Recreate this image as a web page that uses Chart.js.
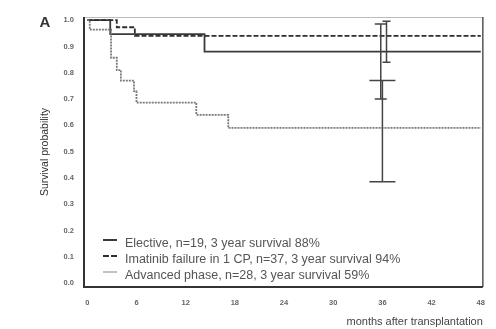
<!DOCTYPE html>
<html>
<head>
<meta charset="utf-8">
<script src="https://cdn.jsdelivr.net/npm/chart.js@4.4.1/dist/chart.umd.min.js"></script>
<style>
  html, body { margin: 0; padding: 0; background: #fff; }
  #wrap { width: 496px; height: 329px; }
</style>
</head>
<body>
<div id="wrap"><canvas id="chart" width="496" height="329"></canvas></div>
<script>
// Kaplan-Meier curves (months, survival)
const electiveT = [0, 2.8, 14.3, 48];
const electiveS = [1, 0.947, 0.88, 0.88];
const imatinibT = [0, 3.6, 5.8, 48];
const imatinibS = [1, 0.973, 0.94, 0.94];
const advancedT = [0, 0.3, 2.9, 3.6, 4.1, 5.7, 6.0, 13.3, 17.2, 48];
const advancedS = [1, 0.964, 0.857, 0.81, 0.77, 0.73, 0.686, 0.64, 0.59, 0.59];

// 3 year confidence bars
const ciMonth = [35.8, 36.5, 36.0];
const ciLow = [0.70, 0.84, 0.385];
const ciHigh = [0.985, 0.996, 0.77];

const legendLabels = [
  'Elective, n=19, 3 year survival 88%',
  'Imatinib failure in 1 CP, n=37, 3 year survival 94%',
  'Advanced phase, n=28, 3 year survival 59%'
];
const xTicks = [0, 6, 12, 18, 24, 30, 36, 42, 48];
const yTicks = [0, 0.1, 0.2, 0.3, 0.4, 0.5, 0.6, 0.7, 0.8, 0.9, 1.0];

const toPoints = (t, s) => t.map((v, i) => ({ x: v, y: s[i] }));

const styles = [
  { color: '#3a3a3a', dash: [], width: 1.8 },
  { color: '#2e2e2e', dash: [5, 2], width: 1.8 },
  { color: '#7a7a7a', dash: [2, 1], width: 1.8 }
];
const caps = [6, 4, 13];

const extras = {
  id: 'extras',
  afterDatasetsDraw(chart) {
    const { ctx, chartArea: a, scales: { x, y } } = chart;
    ctx.save();
    // frame
    ctx.strokeStyle = '#bbb'; ctx.lineWidth = 1;
    ctx.beginPath(); ctx.moveTo(a.left, a.top + 0.5); ctx.lineTo(a.right, a.top + 0.5); ctx.stroke();
    ctx.strokeStyle = '#555'; ctx.lineWidth = 1.5;
    ctx.beginPath(); ctx.moveTo(a.right, a.top); ctx.lineTo(a.right, a.bottom); ctx.stroke();
    ctx.strokeStyle = '#333'; ctx.lineWidth = 2;
    ctx.beginPath(); ctx.moveTo(a.left, a.top); ctx.lineTo(a.left, a.bottom); ctx.lineTo(a.right, a.bottom); ctx.stroke();

    // error bars
    ciMonth.forEach((m, i) => {
      const px = x.getPixelForValue(m);
      const y1 = y.getPixelForValue(ciLow[i]);
      const y2 = y.getPixelForValue(ciHigh[i]);
      ctx.strokeStyle = '#444'; ctx.lineWidth = 1.5; ctx.setLineDash([]);
      ctx.beginPath();
      ctx.moveTo(px, y1); ctx.lineTo(px, y2);
      ctx.moveTo(px - caps[i], y1); ctx.lineTo(px + caps[i], y1);
      ctx.moveTo(px - caps[i], y2); ctx.lineTo(px + caps[i], y2);
      ctx.stroke();
    });

    // legend inside the plot
    legendLabels.forEach((lab, i) => {
      const ly = 243 + i * 16;
      ctx.strokeStyle = styles[i].color; ctx.lineWidth = 2;
      ctx.setLineDash(i === 1 ? [6, 2] : []);
      if (i === 2) { ctx.strokeStyle = '#9a9a9a'; ctx.lineWidth = 1.2; }
      ctx.beginPath(); ctx.moveTo(103, ly - 3); ctx.lineTo(117, ly - 3); ctx.stroke();
      ctx.setLineDash([]);
      ctx.fillStyle = '#555';
      ctx.font = '12.5px "Liberation Sans", Arial, sans-serif';
      ctx.textBaseline = 'middle';
      ctx.fillText(lab, 125, ly + 1);
    });

    // panel letter
    ctx.fillStyle = '#333';
    ctx.font = 'bold 15px "Liberation Sans", Arial, sans-serif';
    ctx.textBaseline = 'middle';
    ctx.textAlign = 'center';
    ctx.fillText('A', 45, 23);
    ctx.restore();
  }
};

const datasets = [
  { label: legendLabels[0], data: toPoints(electiveT, electiveS) },
  { label: legendLabels[1], data: toPoints(imatinibT, imatinibS) },
  { label: legendLabels[2], data: toPoints(advancedT, advancedS) }
].map((d, i) => Object.assign(d, {
  stepped: 'before',
  borderColor: styles[i].color,
  borderDash: styles[i].dash,
  borderWidth: styles[i].width,
  pointRadius: 0,
  fill: false
}));

new Chart(document.getElementById('chart').getContext('2d'), {
  type: 'line',
  data: { datasets: datasets.reverse() },
  options: {
    responsive: false,
    animation: false,
    layout: { padding: { left: 38, top: 17, right: 8, bottom: 0 } },
    plugins: { legend: { display: false }, tooltip: { enabled: false } },
    scales: {
      x: {
        type: 'linear',
        min: -0.4,
        max: 48.25,
        afterBuildTicks: s => { s.ticks = xTicks.map(v => ({ value: v })); },
        afterFit: s => { s.height = 42; },
        grid: { display: false, drawTicks: false },
        border: { display: false },
        ticks: {
          padding: 11,
          color: '#666',
          font: { size: 7.5, family: '"Liberation Sans", Arial, sans-serif', weight: 'bold' },
          maxRotation: 0,
          callback: v => String(v)
        },
        title: {
          display: true,
          text: 'months after transplantation',
          align: 'end',
          color: '#444',
          padding: { top: 0, bottom: 0 },
          font: { size: 11, family: '"Liberation Sans", Arial, sans-serif' }
        }
      },
      y: {
        type: 'linear',
        min: -0.015,
        max: 1.012,
        afterBuildTicks: s => { s.ticks = yTicks.map(v => ({ value: v })); },
        afterFit: s => { s.width = 46; },
        grid: { display: false, drawTicks: false },
        border: { display: false },
        ticks: {
          padding: 10,
          color: '#666',
          font: { size: 7.5, family: '"Liberation Sans", Arial, sans-serif', weight: 'bold' },
          callback: v => v.toFixed(1)
        },
        title: {
          display: true,
          text: 'Survival probability',
          color: '#333',
          padding: { top: 1, bottom: 0 },
          font: { size: 10.5, family: '"Liberation Sans", Arial, sans-serif' }
        }
      }
    }
  },
  plugins: [extras]
});
</script>
</body>
</html>
